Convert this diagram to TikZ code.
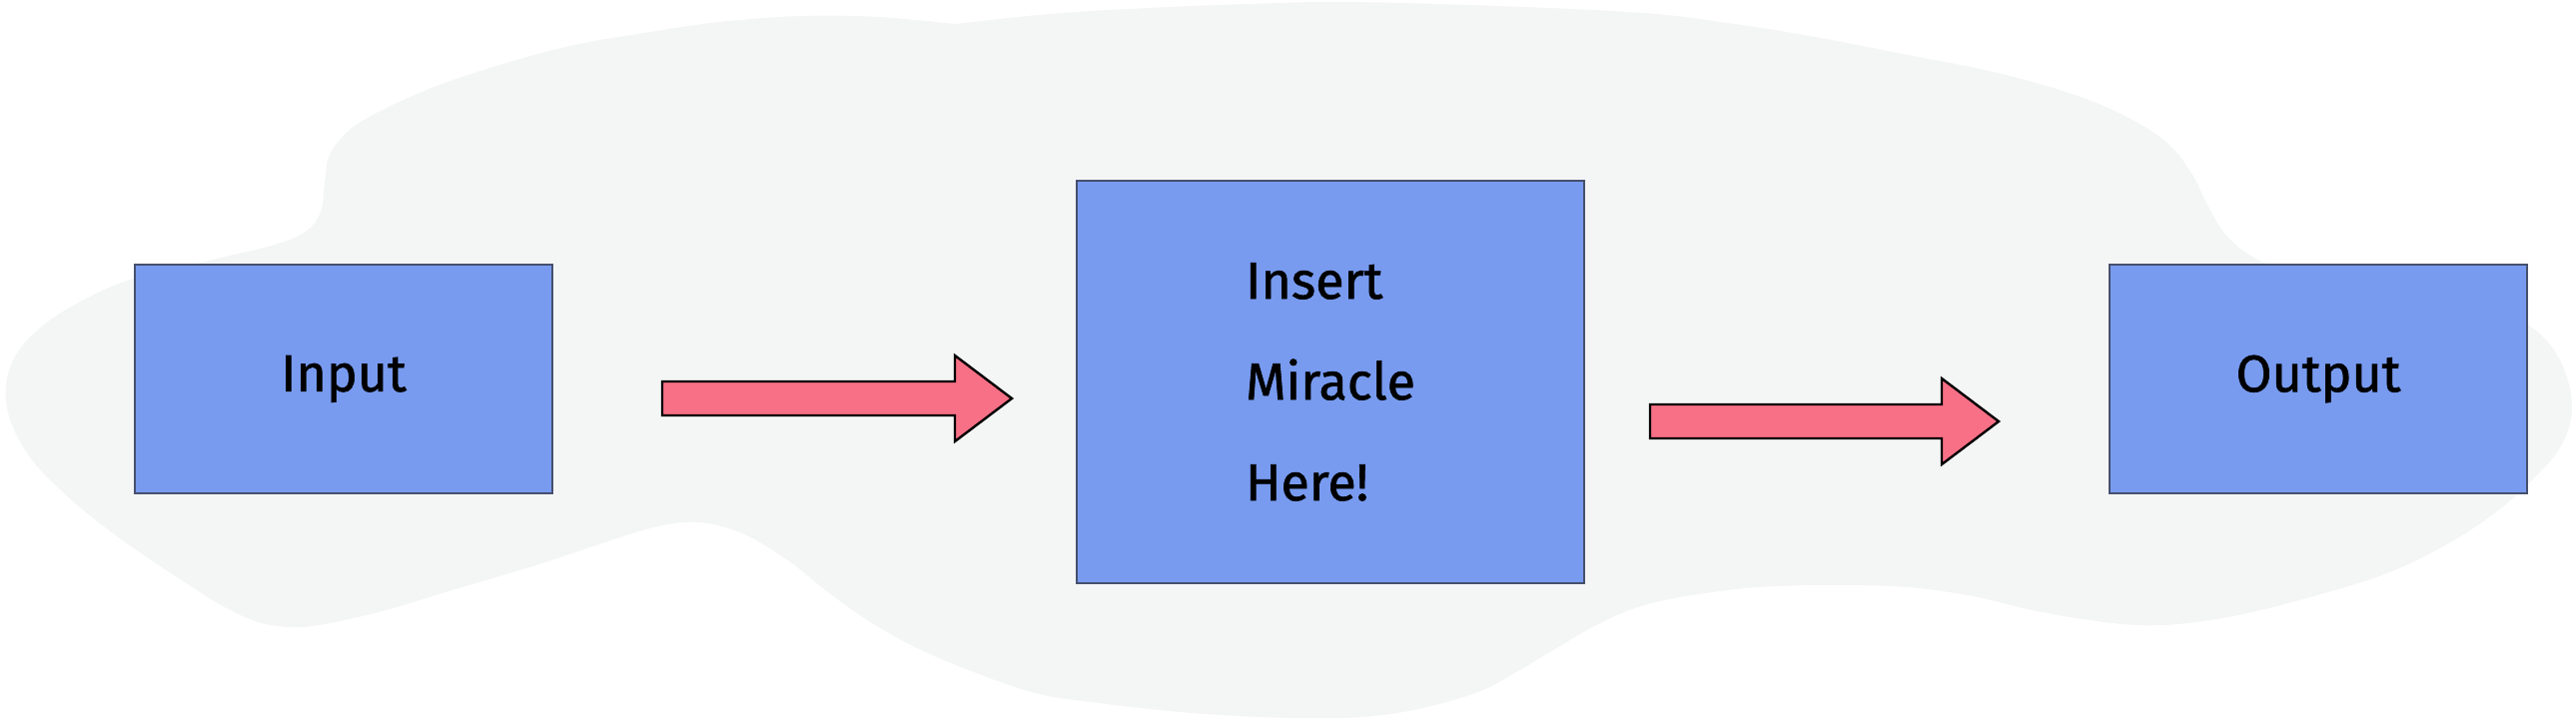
\documentclass[tikz,border=0pt]{standalone}
\usepackage{fontspec}
\setmainfont{Fira Sans}
\newfontfamily\handfont{Fira Sans}[FakeBold=1.2]
\definecolor{blobgray}{RGB}{244,245,245}
\definecolor{boxblue}{RGB}{120,155,240}
\definecolor{boxline}{RGB}{70,80,110}
\definecolor{arrowpink}{RGB}{247,112,134}
\tikzset{
  stagebox/.style={draw=boxline, line width=1.2pt, fill=boxblue, inner sep=0pt,
    font=\handfont\fontsize{52}{101}\selectfont, text=black},
  blockarrow/.style={draw=black, line width=2.4pt, fill=arrowpink, line join=miter},
  blobfill/.style={fill=blobgray, draw=none}
}
\begin{document}
\begin{tikzpicture}[x=1pt,y=-1pt]
\useasboundingbox (0,0) rectangle (2579,721);
% background blob
\path[blobfill] plot[smooth, tension=0.6] coordinates {
 (956,24) (1050,14) (1149,8) (1250,4) (1348,2) (1500,6) (1646,13) (1730,23)
 (1812,36) (1900,53) (2000,73) (2080,96) (2135,120) (2172,145) (2195,175)
 (2210,205) (2226,232) (2250,254) (2285,270) (2340,285) (2410,295) (2475,306)
 (2522,320) (2553,345) (2570,378) (2575,412) (2565,445) (2540,476) (2500,512)
 (2450,545) (2390,574) (2320,596) (2250,614) (2190,624) (2140,626) (2085,620)
 (2030,610) (1975,597) (1910,588) (1837,586) (1760,588) (1688,597) (1640,608)
 (1600,625) (1560,648) (1520,672) (1480,693) (1420,710) (1364,718) (1300,719)
 (1240,717) (1170,712) (1100,704) (1040,695) (980,675) (920,650) (870,622)
 (829,593) (790,562) (745,535) (700,523) (655,528) (600,545) (540,565) (490,580)
 (446,593) (390,610) (340,622) (300,628) (262,624) (225,608) (191,587) (150,560)
 (105,528) (64,494) (30,458) (10,420) (6,385) (18,352) (48,322) (90,297)
 (130,280) (180,268) (230,256) (275,245) (306,232) (321,212) (325,183) (330,155)
 (350,130) (383,110) (440,85) (510,62) (575,45) (638,34) (720,22) (804,16)
 (880,17) (956,24)} -- cycle;
% boxes
\node[stagebox, minimum width=418pt, minimum height=229pt] (input) at (344,379.5) {Input};
\node[stagebox, minimum width=508pt, minimum height=403pt, align=left] (miracle) at (1332,382.5) {Insert\\Miracle\\Here!};
\node[stagebox, minimum width=418pt, minimum height=229pt] (output) at (2321,379.5) {Output};
% block arrows
\coordinate (a1) at (663,399);
\coordinate (a2) at (1652,422);
\draw[blockarrow] (a1) ++(0,-17) -- ++(293,0) -- ++(0,-26) -- ++(57,43) -- ++(-57,43) -- ++(0,-26) -- ++(-293,0) -- cycle;
\draw[blockarrow] (a2) ++(0,-17) -- ++(292,0) -- ++(0,-26) -- ++(57,43) -- ++(-57,43) -- ++(0,-26) -- ++(-292,0) -- cycle;
\end{tikzpicture}
\end{document}
